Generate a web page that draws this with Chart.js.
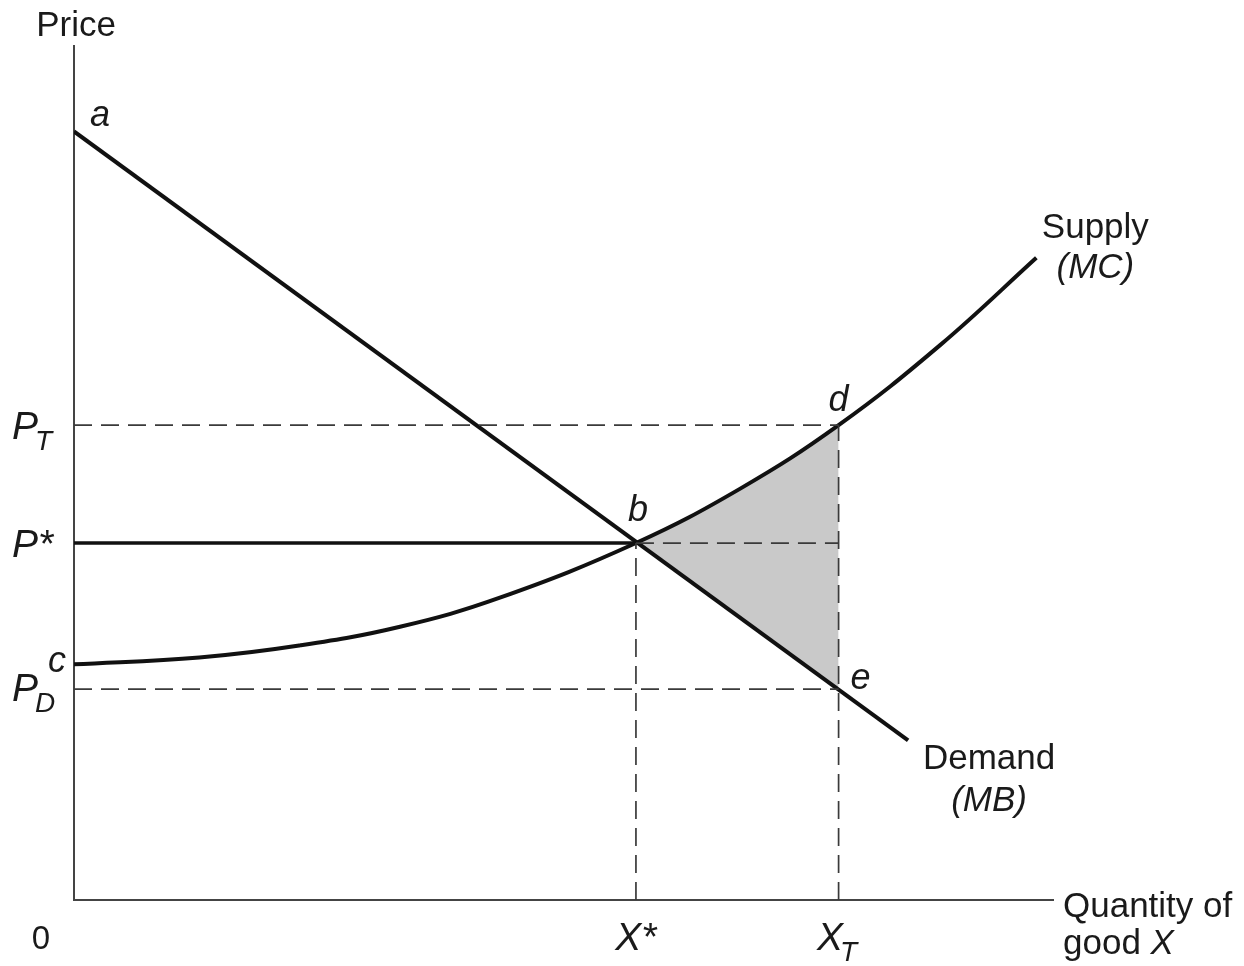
<!DOCTYPE html>
<html lang="en">
<head>
  <meta charset="UTF-8" />
  <title>Supply and demand with a tax</title>
  <style>
    html, body { margin: 0; padding: 0; background: #fff; }
    #wrap { width: 1244px; height: 966px; position: relative; }
  </style>
  <script src="https://cdn.jsdelivr.net/npm/chart.js"></script>
</head>
<body>
  <div id="wrap"><canvas id="chart" width="1244" height="966"></canvas></div>
  <script>
    // ─── values (quantity 0-100, price 0-100) ───
    const demandQty   = [0, 85.2];
    const demandPrice = [90.0, 18.7];

    const supplyQty   = [0, 12.8, 23.0, 33.3, 43.5, 57.4, 68.1, 78.1, 88.5, 98.3];
    const supplyPrice = [27.6, 28.4, 29.8, 32.0, 35.4, 41.8, 48.2, 55.6, 65.0, 75.2];

    const qtyMarks   = { xStar: 57.4, xT: 78.1 };
    const priceMarks = { pT: 55.6, pStar: 41.8, pD: 24.7 };

    const pts = (xs, ys) => xs.map((x, i) => ({ x, y: ys[i] }));
    const { xStar, xT } = qtyMarks;
    const { pT, pStar, pD } = priceMarks;

    // part of supply between b and d, used for the shaded triangle
    const shadeIdx = supplyQty.map((q, i) => i).filter(i => supplyQty[i] >= xStar && supplyQty[i] <= xT);

    const DASH = [18, 9];
    const dashed = (data) => ({
      data, borderColor: '#3a3a3a', borderWidth: 1.7, borderDash: DASH,
      pointRadius: 0, fill: false, tension: 0
    });

    const datasets = [
      // 0: shade top (supply b..d) filled down to 1
      { data: shadeIdx.map(i => ({ x: supplyQty[i], y: supplyPrice[i] })),
        borderWidth: 0, borderColor: 'rgba(0,0,0,0)', pointRadius: 0,
        tension: 0.3, backgroundColor: '#c9c9c9', fill: 1 },
      // 1: shade bottom (demand b..e)
      { data: [{ x: xStar, y: pStar }, { x: xT, y: pD }],
        borderWidth: 0, borderColor: 'rgba(0,0,0,0)', pointRadius: 0, fill: false },
      // dashed guides
      dashed([{ x: 0, y: pT }, { x: xT, y: pT }]),
      dashed([{ x: 0, y: pD }, { x: xT, y: pD }]),
      dashed([{ x: xStar, y: pStar }, { x: xT, y: pStar }]),
      dashed([{ x: xStar, y: 0 }, { x: xStar, y: pStar }]),
      dashed([{ x: xT, y: 0 }, { x: xT, y: pT }]),
      // P* solid
      { data: [{ x: 0, y: pStar }, { x: xStar, y: pStar }],
        borderColor: '#111', borderWidth: 3.6, pointRadius: 0, fill: false },
      // demand
      { data: pts(demandQty, demandPrice),
        borderColor: '#111', borderWidth: 4, pointRadius: 0, fill: false },
      // supply
      { data: pts(supplyQty, supplyPrice),
        borderColor: '#111', borderWidth: 4, pointRadius: 0, fill: false,
        tension: 0.4 }
    ];

    const FONT = '"Liberation Sans", Arial, Helvetica, sans-serif';

    // ─── labels drawn at data positions ───
    const labelPlugin = {
      id: 'labels',
      afterDraw(chart) {
        const { ctx, scales: { x, y } } = chart;
        const px = v => x.getPixelForValue(v);
        const py = v => y.getPixelForValue(v);
        ctx.save();
        ctx.fillStyle = '#1a1a1a';
        ctx.textBaseline = 'alphabetic';

        const txt = (s, tx, ty, opts = {}) => {
          ctx.font = `${opts.italic ? 'italic ' : ''}${opts.size || 35}px ${FONT}`;
          ctx.textAlign = opts.align || 'left';
          ctx.fillText(s, tx, ty);
        };
        // symbol with subscript
        const sub = (main, s, tx, ty, align) => {
          ctx.font = `italic 39px ${FONT}`;
          const w1 = ctx.measureText(main).width;
          ctx.font = `italic 28px ${FONT}`;
          const w2 = s ? ctx.measureText(s).width : 0;
          let left = tx;
          if (align === 'center') left = tx - (w1 + w2) / 2;
          ctx.textAlign = 'left';
          ctx.font = `italic 39px ${FONT}`;
          ctx.fillText(main, left, ty);
          if (s) {
            ctx.font = `italic 28px ${FONT}`;
            ctx.fillText(s, left + w1 - 3, ty + 11);
          }
        };

        const left = px(0), bottom = py(0);

        txt('Price', left + 2, py(100) - 10, { align: 'center', size: 35 });
        txt('0', left - 33, bottom + 49, { align: 'center', size: 33 });

        sub('P', 'T', left - 62, py(pT) + 14);
        sub('P*', '', left - 62, py(pStar) + 14);
        sub('P', 'D', left - 62, py(pD) + 12);

        sub('X*', '', px(xStar), bottom + 50, 'center');
        sub('X', 'T', px(xT), bottom + 50, 'center');

        txt('a', px(demandQty[0]) + 16, py(demandPrice[0]) - 5, { italic: true, size: 36 });
        txt('c', px(supplyQty[0]) - 26, py(supplyPrice[0]) + 8, { italic: true, size: 36 });
        txt('b', px(xStar) - 8, py(pStar) - 22, { italic: true, size: 36 });
        txt('d', px(xT) - 10, py(pT) - 14, { italic: true, size: 36 });
        txt('e', px(xT) + 12, py(pD) + 0, { italic: true, size: 36 });

        const sx = px(supplyQty[supplyQty.length - 1]);
        const sy = py(supplyPrice[supplyPrice.length - 1]);
        txt('Supply', sx + 59, sy - 20, { align: 'center', size: 35 });
        txt('(MC)', sx + 59, sy + 20, { align: 'center', italic: true, size: 35 });

        const dx = px(demandQty[1]);
        const dy = py(demandPrice[1]);
        txt('Demand', dx + 81, dy + 29, { align: 'center', size: 35 });
        txt('(MB)', dx + 81, dy + 71, { align: 'center', italic: true, size: 35 });

        txt('Quantity of', px(100) + 10, bottom + 17, { size: 35 });
        txt('good ', px(100) + 10, bottom + 54, { size: 35 });
        ctx.font = `35px ${FONT}`;
        const gw = ctx.measureText('good ').width;
        txt('X', px(100) + 10 + gw, bottom + 54, { italic: true, size: 35 });

        ctx.restore();
      }
    };

    new Chart(document.getElementById('chart'), {
      type: 'line',
      data: { datasets },
      plugins: [labelPlugin],
      options: {
        responsive: false,
        animation: false,
        layout: { padding: { left: 74, right: 191, top: 46, bottom: 66 } },
        scales: {
          x: {
            type: 'linear', min: 0, max: 100,
            ticks: { display: false },
            grid: { display: false, drawTicks: false },
            border: { display: true, color: '#444', width: 2 }
          },
          y: {
            type: 'linear', min: 0, max: 100,
            ticks: { display: false },
            grid: { display: false, drawTicks: false },
            border: { display: true, color: '#444', width: 2 }
          }
        },
        plugins: {
          legend: { display: false },
          tooltip: { enabled: false },
          filler: { drawTime: 'beforeDatasetsDraw' }
        }
      }
    });
  </script>
</body>
</html>
